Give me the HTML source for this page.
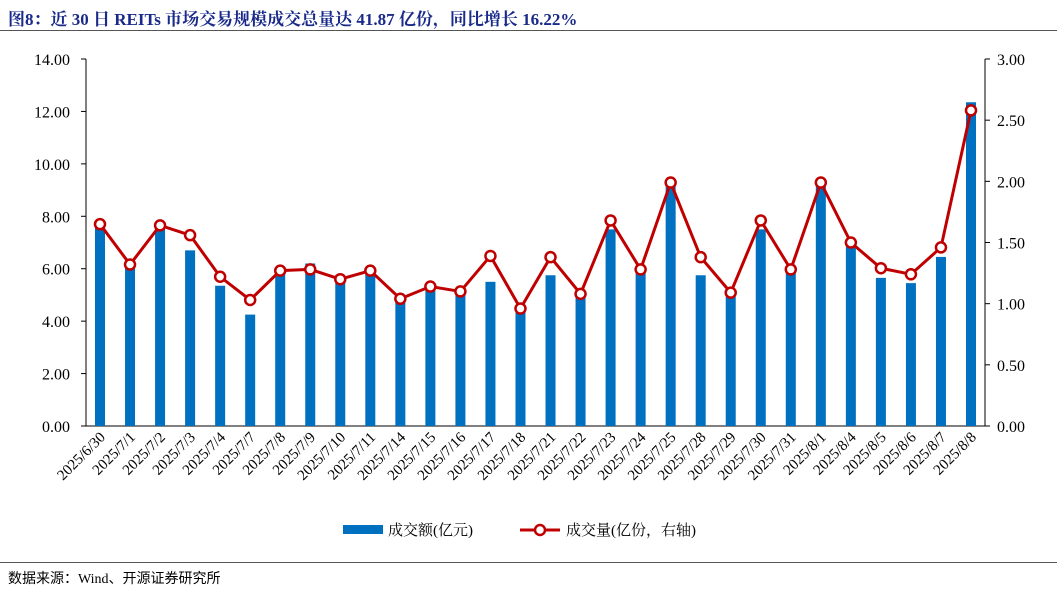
<!DOCTYPE html>
<html><head><meta charset="utf-8"><style>
body{margin:0;width:1057px;height:592px;background:#fff;overflow:hidden;font-family:"Liberation Serif","Noto Serif CJK SC",serif}
.t{position:absolute;left:8px;top:5px;font-size:17px;font-weight:bold;color:#1a2a8a}
.src{position:absolute;left:8px;top:568px;font-size:14px;color:#000;font-family:"Liberation Serif","Noto Sans CJK SC",serif}
</style></head><body>
<div class="t">图8：近 30 日 REITs 市场交易规模成交总量达 41.87 亿份，同比增长 16.22%</div>
<div style="position:absolute;left:0;top:30px;width:1057px;height:1px;background:#555"></div>
<div style="position:absolute;left:0;top:562px;width:1057px;height:1px;background:#555"></div>
<div class="src">数据来源：Wind、开源证券研究所</div>
<svg id="c" width="1057" height="592" style="position:absolute;left:0;top:0"></svg>
<script>
const categories=["2025/6/30","2025/7/1","2025/7/2","2025/7/3","2025/7/4","2025/7/7","2025/7/8","2025/7/9","2025/7/10","2025/7/11","2025/7/14","2025/7/15","2025/7/16","2025/7/17","2025/7/18","2025/7/21","2025/7/22","2025/7/23","2025/7/24","2025/7/25","2025/7/28","2025/7/29","2025/7/30","2025/7/31","2025/8/1","2025/8/4","2025/8/5","2025/8/6","2025/8/7","2025/8/8"];
const amounts=[7.6,6.15,7.55,6.7,5.35,4.25,5.95,6.2,5.6,5.9,4.9,5.25,5.1,5.5,4.5,5.75,5.0,7.5,6.0,9.4,5.75,5.0,7.5,5.95,9.3,7.0,5.65,5.45,6.45,12.35];
const volumes=[1.65,1.32,1.64,1.56,1.22,1.03,1.27,1.28,1.20,1.27,1.04,1.14,1.10,1.39,0.96,1.38,1.08,1.68,1.28,1.99,1.38,1.09,1.68,1.28,1.99,1.50,1.29,1.24,1.46,2.58];
const leftTicks=["0.00","2.00","4.00","6.00","8.00","10.00","12.00","14.00"];
const rightTicks=["0.00","0.50","1.00","1.50","2.00","2.50","3.00"];
const L=86,R=985,T=59,B=426;
const yL=v=>B-(v/14)*(B-T), yR=v=>B-(v/3)*(B-T);
const x=i=>100+i*(971-100)/(categories.length-1);
const s=document.getElementById('c');const NS="http://www.w3.org/2000/svg";
function mk(tag,a,txt){const e=document.createElementNS(NS,tag);for(const k in a)e.setAttribute(k,a[k]);if(txt!=null)e.textContent=txt;s.appendChild(e);return e;}
let e;
e=mk('line',{x1:L,y1:T,x2:L,y2:B,stroke:'#000'});
e=mk('line',{x1:R,y1:T,x2:R,y2:B,stroke:'#000'});
e=mk('line',{x1:L,y1:B,x2:R,y2:B,stroke:'#000'});
leftTicks.forEach(t=>{const y=yL(+t);
e=mk('line',{x1:L-5,y1:y,x2:L,y2:y,stroke:'#000'});
e=mk('text',{x:L-16,y:y+6,'text-anchor':'end','font-size':16},t);});
rightTicks.forEach(t=>{const y=yR(+t);
e=mk('line',{x1:R,y1:y,x2:R+5,y2:y,stroke:'#000'});
e=mk('text',{x:R+12,y:y+6,'font-size':16},t);});
amounts.forEach((v,i)=>{e=mk('rect',{x:x(i)-5,y:yL(v),width:10,height:B-yL(v),fill:'#0070c0'});});
e=mk('polyline',{points:volumes.map((v,i)=>x(i)+','+yR(v)).join(' '),fill:'none',stroke:'#c00000','stroke-width':3});
volumes.forEach((v,i)=>{e=mk('circle',{cx:x(i),cy:yR(v),r:5,fill:'#fff',stroke:'#c00000','stroke-width':2.5});});
categories.forEach((c,i)=>{e=mk('text',{x:x(i)+6,y:B+12,'text-anchor':'end','font-size':15,transform:`rotate(-45 ${x(i)+6} ${B+12})`},c);});
e=mk('rect',{x:343,y:525,width:40,height:9,fill:'#0070c0'});
e=mk('text',{x:388,y:535,'font-size':15},'成交额(亿元)');
e=mk('line',{x1:520,y1:530,x2:560,y2:530,stroke:'#c00000','stroke-width':3});
e=mk('circle',{cx:540,cy:530,r:5,fill:'#fff',stroke:'#c00000','stroke-width':2.5});
e=mk('text',{x:566,y:535,'font-size':15},'成交量(亿份，右轴)');
</script>
</body></html>
